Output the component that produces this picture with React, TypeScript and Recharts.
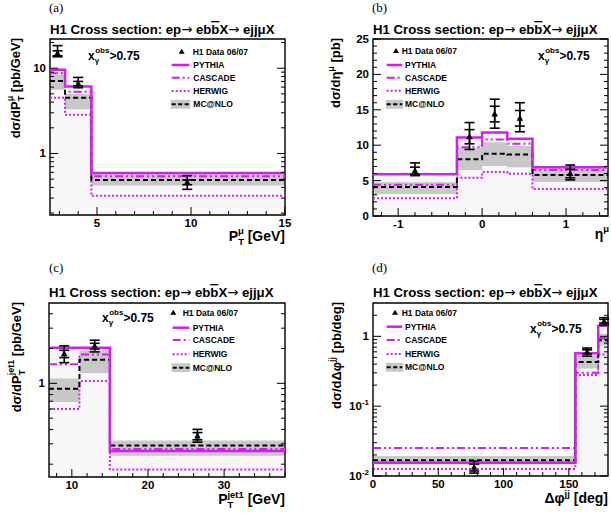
import React from "react";
import {
  ComposedChart,
  Line,
  Area,
  Scatter,
  XAxis,
  YAxis,
  ErrorBar,
  ReferenceArea,
} from "recharts";

const MAG = "#d21ff0";
const BAND = "#c8c8c8";
const UNDER = "#f7f7f7";
const FONT = "'Liberation Sans', Arial, Helvetica, sans-serif";

// (a) dσ/dPTμ
const A_EDGES = [2.5, 3.3, 4.7, 15];
const A_PYTHIA = [9.6, 6.1, 0.59];
const A_CASCADE = [8.7, 5.3, 0.54];
const A_HERWIG = [4.5, 2.85, 0.32];
const A_MCNLO = [7.1, 4.5, 0.49];
const A_MCNLO_LO = [5.6, 3.3, 0.42];
const A_MCNLO_HI = [8.3, 5.0, 0.58];
const A_DATA_X = [2.9, 4.0, 9.8];
const A_DATA_Y = [15, 6.6, 0.46];
const A_DATA_LO = [13.6, 5.9, 0.38];
const A_DATA_HI = [18.4, 7.8, 0.55];
const A_DATA_STAT = [1.0, 0.4, 0.03];

// (b) dσ/dημ
const B_EDGES = [-1.3, -0.3, 0, 0.3, 0.6, 1.5];
const B_PYTHIA = [5.9, 11.1, 11.8, 10.9, 6.9];
const B_CASCADE = [4.4, 9.7, 10.8, 10.2, 6.5];
const B_HERWIG = [2.5, 5.4, 6.2, 5.95, 3.8];
const B_MCNLO = [4.1, 8.0, 8.8, 8.7, 5.8];
const B_MCNLO_LO = [3.1, 6.5, 7.05, 6.9, 4.8];
const B_MCNLO_HI = [4.75, 9.6, 10.4, 9.9, 6.9];
const B_DATA_X = [-0.8, -0.15, 0.15, 0.45, 1.05];
const B_DATA_Y = [6.4, 11.2, 14.4, 13.8, 6.0];
const B_DATA_LO = [5.7, 9.4, 12.4, 11.9, 5.1];
const B_DATA_HI = [7.5, 13.2, 16.5, 16.0, 7.2];
const B_DATA_STAT = [0.5, 1.0, 1.1, 1.1, 0.6];

// (c) dσ/dPTjet1
const C_EDGES = [7, 11, 15, 38];
const C_PYTHIA = [2.03, 2.03, 0.26];
const C_CASCADE = [1.46, 1.78, 0.27];
const C_HERWIG = [0.6, 1.05, 0.18];
const C_MCNLO = [0.9, 1.6, 0.29];
const C_MCNLO_LO = [0.69, 1.23, 0.237];
const C_MCNLO_HI = [1.1, 1.93, 0.32];
const C_DATA_X = [9, 13, 26.5];
const C_DATA_Y = [1.8, 2.1, 0.35];
const C_DATA_LO = [1.51, 1.87, 0.31];
const C_DATA_HI = [2.11, 2.36, 0.4];
const C_DATA_STAT = [0.13, 0.12, 0.025];

// (d) dσ/dΔφjj
const D_EDGES = [0, 155, 172.5, 180];
const D_PYTHIA = [0.0155, 0.57, 1.42];
const D_CASCADE = [0.0251, 0.3, 0.95];
const D_HERWIG = [0.0126, 0.28, 0.55];
const D_MCNLO = [0.0168, 0.43, 0.88];
const D_MCNLO_LO = [0.0147, 0.345, 0.74];
const D_MCNLO_HI = [0.0193, 0.53, 1.09];
const D_DATA_X = [77.5, 164, 177];
const D_DATA_Y = [0.0133, 0.6, 1.65];
const D_DATA_LO = [0.011, 0.52, 1.45];
const D_DATA_HI = [0.0164, 0.68, 1.85];
const D_DATA_STAT = [0.0015, 0.04, 0.1];

// tick labels
const A_X_MAJOR = [5, 10, 15];
const A_Y_MAJOR = [1, 10];
const B_X_MAJOR = [-1, 0, 1];
const B_Y_MAJOR = [0, 5, 10, 15, 20, 25];
const C_X_MAJOR = [10, 20, 30];
const C_Y_MAJOR = [1];
const D_X_MAJOR = [0, 50, 100, 150];
const D_Y_MAJOR = [0.01, 0.1, 1];

function steps(from: number, to: number, step: number, skip: number[]) {
  const out: number[] = [];
  for (let v = from; v <= to + 1e-9; v += step) {
    const r = Math.round(v * 1000) / 1000 + 0;
    if (!skip.some((s) => Math.abs(s - r) < 1e-9)) out.push(r);
  }
  return out;
}

function logMinors(lo: number, hi: number) {
  const out: number[] = [];
  for (let e = -3; e <= 2; e++) {
    for (let m = 2; m <= 9; m++) {
      const v = Number((m * Math.pow(10, e)).toPrecision(3));
      if (v > lo && v < hi) out.push(v);
    }
  }
  return out;
}

function hist(edges: number[], vals: number[]) {
  return edges.map((x, i) => ({ x, y: vals[Math.min(i, vals.length - 1)] }));
}

function band(edges: number[], lo: number[], hi: number[]) {
  return edges.map((x, i) => {
    const k = Math.min(i, lo.length - 1);
    return { x, r: [lo[k], hi[k]] };
  });
}

function points(xs: number[], ys: number[], lo: number[], hi: number[], st: number[]) {
  return xs.map((x, i) => ({
    x,
    y: ys[i],
    tot: [ys[i] - lo[i], hi[i] - ys[i]],
    st: [st[i], st[i]],
  }));
}

const Tri = (p: any) => (
  <polygon
    points={`${p.cx},${p.cy - 3.5} ${p.cx - 3.3},${p.cy + 2.5} ${p.cx + 3.3},${p.cy + 2.5}`}
    fill="#000"
  />
);

const logFmt = (v: number) => {
  if (v === 0.01)
    return (
      <>
        10<tspan dy={-5} fontSize={8}>-2</tspan>
      </>
    );
  if (v === 0.1)
    return (
      <>
        10<tspan dy={-5} fontSize={8}>-1</tspan>
      </>
    );
  return String(v);
};

const isMajor = (majors: number[], v: number) => majors.some((m) => Math.abs(m - v) < 1e-9);

// inward tick marks (ROOT style)
const bottomTick = (majors: number[]) => (p: any) => {
  const maj = isMajor(majors, Number(p.payload.value));
  return <line x1={p.x} x2={p.x} y1={p.y} y2={p.y - (maj ? 8 : 4)} stroke="#000" />;
};

const leftTick = (majors: number[]) => (p: any) => {
  const maj = isMajor(majors, Number(p.payload.value));
  return <line x1={p.x} x2={p.x + (maj ? 8 : 4)} y1={p.y} y2={p.y} stroke="#000" />;
};

const rightTick = (majors: number[]) => (p: any) => {
  const maj = isMajor(majors, Number(p.payload.value));
  return <line x1={p.x} x2={p.x - (maj ? 8 : 4)} y1={p.y} y2={p.y} stroke="#000" />;
};

const blank = () => "";

type Cfg = {
  left: number;
  top: number;
  w: number;
  h: number;
  box: number[];
  xDomain: number[];
  yDomain: number[];
  log: boolean;
  xMajor: number[];
  xMinor: number[];
  yMajor: number[];
  yMinor: number[];
  edges: number[];
  pythia: number[];
  cascade: number[];
  herwig: number[];
  mcnlo: number[];
  lo: number[];
  hi: number[];
  pts: any[];
};

function Panel({ c }: { c: Cfg }) {
  const [l, t, r, b] = c.box;
  const floor = c.yDomain[0];
  const under = c.edges.map((x, i) => ({
    x,
    r: [floor, c.pythia[Math.min(i, c.pythia.length - 1)]],
  }));
  const yTicks = [...c.yMajor, ...c.yMinor].sort((p, q) => p - q);
  const xTicks = [...c.xMajor, ...c.xMinor].sort((p, q) => p - q);
  const axisCommon = {
    type: "number" as const,
    allowDataOverflow: true,
    interval: 0,
    minTickGap: 0,
    tickSize: 0,
    tickMargin: 0,
    axisLine: false,
    tickLine: false,
    tickFormatter: blank,
  };
  return (
    <div style={{ position: "absolute", left: c.left, top: c.top }}>
      <ComposedChart
        width={c.w}
        height={c.h}
        margin={{ top: t, left: l - 40, right: c.w - r - 1, bottom: c.h - b - 30 }}
      >
        <XAxis {...axisCommon} dataKey="x" domain={c.xDomain} ticks={xTicks} tick={bottomTick(c.xMajor)} height={30} />
        <YAxis
          {...axisCommon}
          dataKey="y"
          scale={c.log ? "log" : "linear"}
          domain={c.yDomain}
          ticks={yTicks}
          tick={leftTick(c.yMajor)}
          width={40}
        />
        <YAxis
          {...axisCommon}
          yAxisId="r"
          orientation="right"
          scale={c.log ? "log" : "linear"}
          domain={c.yDomain}
          ticks={yTicks}
          tick={rightTick(c.yMajor)}
          width={1}
        />
        <Area data={under} dataKey="r" type="stepAfter" fill={UNDER} fillOpacity={1} stroke="none" isAnimationActive={false} />
        <Area data={band(c.edges, c.lo, c.hi)} dataKey="r" type="stepAfter" fill={BAND} fillOpacity={1} stroke="none" isAnimationActive={false} />
        <Line data={hist(c.edges, c.herwig)} dataKey="y" type="stepAfter" stroke={MAG} strokeWidth={2} strokeDasharray="2 2" dot={false} isAnimationActive={false} />
        <Line data={hist(c.edges, c.cascade)} dataKey="y" type="stepAfter" stroke={MAG} strokeWidth={2} strokeDasharray="8 3 2 3 2 3" dot={false} isAnimationActive={false} />
        <Line data={hist(c.edges, c.mcnlo)} dataKey="y" type="stepAfter" stroke="#000" strokeWidth={2} strokeDasharray="5 3" dot={false} isAnimationActive={false} />
        <Line data={hist(c.edges, c.pythia)} dataKey="y" type="stepAfter" stroke={MAG} strokeWidth={2.5} dot={false} isAnimationActive={false} />
        <Scatter data={c.pts} dataKey="y" shape={Tri} isAnimationActive={false}>
          <ErrorBar dataKey="tot" direction="y" width={5} stroke="#000" strokeWidth={1.6} />
          <ErrorBar dataKey="st" direction="y" width={5} stroke="#000" strokeWidth={1.6} />
        </Scatter>
        <ReferenceArea
          x1={c.xDomain[0]}
          x2={c.xDomain[1]}
          y1={c.yDomain[0]}
          y2={c.yDomain[1]}
          fill="none"
          stroke="#000"
          strokeWidth={1.4}
          ifOverflow="visible"
        />
      </ComposedChart>
    </div>
  );
}

const PANELS: Cfg[] = [
  {
    left: 0, top: 0, w: 305, h: 260, box: [50, 39, 285, 215],
    xDomain: [2.5, 15], yDomain: [0.19, 22], log: true,
    xMajor: A_X_MAJOR, xMinor: steps(3, 14, 1, A_X_MAJOR),
    yMajor: A_Y_MAJOR, yMinor: logMinors(0.19, 22),
    edges: A_EDGES, pythia: A_PYTHIA, cascade: A_CASCADE, herwig: A_HERWIG,
    mcnlo: A_MCNLO, lo: A_MCNLO_LO, hi: A_MCNLO_HI,
    pts: points(A_DATA_X, A_DATA_Y, A_DATA_LO, A_DATA_HI, A_DATA_STAT),
  },
  {
    left: 305, top: 0, w: 306, h: 260, box: [68, 39, 303, 216],
    xDomain: [-1.3, 1.5], yDomain: [0, 25], log: false,
    xMajor: B_X_MAJOR, xMinor: steps(-1.2, 1.4, 0.2, B_X_MAJOR),
    yMajor: B_Y_MAJOR, yMinor: steps(1, 24, 1, B_Y_MAJOR),
    edges: B_EDGES, pythia: B_PYTHIA, cascade: B_CASCADE, herwig: B_HERWIG,
    mcnlo: B_MCNLO, lo: B_MCNLO_LO, hi: B_MCNLO_HI,
    pts: points(B_DATA_X, B_DATA_Y, B_DATA_LO, B_DATA_HI, B_DATA_STAT),
  },
  {
    left: 0, top: 260, w: 305, h: 260, box: [49, 43, 285, 217],
    xDomain: [7, 38], yDomain: [0.155, 4.95], log: true,
    xMajor: C_X_MAJOR, xMinor: steps(8, 38, 2, C_X_MAJOR),
    yMajor: C_Y_MAJOR, yMinor: logMinors(0.155, 4.95),
    edges: C_EDGES, pythia: C_PYTHIA, cascade: C_CASCADE, herwig: C_HERWIG,
    mcnlo: C_MCNLO, lo: C_MCNLO_LO, hi: C_MCNLO_HI,
    pts: points(C_DATA_X, C_DATA_Y, C_DATA_LO, C_DATA_HI, C_DATA_STAT),
  },
  {
    left: 305, top: 260, w: 306, h: 260, box: [68, 43, 303, 216],
    xDomain: [0, 180], yDomain: [0.01, 3], log: true,
    xMajor: D_X_MAJOR, xMinor: steps(10, 170, 10, D_X_MAJOR),
    yMajor: D_Y_MAJOR, yMinor: logMinors(0.01, 3),
    edges: D_EDGES, pythia: D_PYTHIA, cascade: D_CASCADE, herwig: D_HERWIG,
    mcnlo: D_MCNLO, lo: D_MCNLO_LO, hi: D_MCNLO_HI,
    pts: points(D_DATA_X, D_DATA_Y, D_DATA_LO, D_DATA_HI, D_DATA_STAT),
  },
];

const B = { fontFamily: FONT, fontWeight: "bold" as const, fill: "#000" };

// numeric tick labels, placed with the same mapping the chart's axes use
function TickLabels({ c }: { c: Cfg }) {
  const [l, t, r, b] = c.box;
  const [x0, x1] = c.xDomain;
  const [y0, y1] = c.yDomain;
  const px = (v: number) => c.left + l + ((v - x0) / (x1 - x0)) * (r - l);
  const py = (v: number) => {
    const f = c.log
      ? (Math.log10(v) - Math.log10(y0)) / (Math.log10(y1) - Math.log10(y0))
      : (v - y0) / (y1 - y0);
    return c.top + b - f * (b - t);
  };
  return (
    <g>
      {c.xMajor.map((v) => (
        <text key={`x${v}`} x={px(v)} y={c.top + b + 11.5} textAnchor="middle" {...B} fontSize={11.5}>
          {String(v)}
        </text>
      ))}
      {c.yMajor.map((v) => (
        <text key={`y${v}`} x={c.left + l - 4} y={py(v) + 4} textAnchor="end" {...B} fontSize={11.5}>
          {logFmt(v)}
        </text>
      ))}
    </g>
  );
}

function Legend({ ox, oy, tri, dataX, l0, l1, tx, rows }: any) {
  return (
    <g transform={`translate(${ox},${oy})`}>
      <polygon points={`${tri},${rows[0] - 3} ${tri - 3},${rows[0] + 2} ${tri + 3},${rows[0] + 2}`} fill="#000" />
      <text x={dataX} y={rows[0] + 3} {...B} fontSize={8.5}>H1 Data 06/07</text>
      <line x1={l0} x2={l1} y1={rows[1]} y2={rows[1]} stroke={MAG} strokeWidth={2.5} />
      <text x={tx} y={rows[1] + 3} {...B} fontSize={8.5}>PYTHIA</text>
      <line x1={l0} x2={l1} y1={rows[2]} y2={rows[2]} stroke={MAG} strokeWidth={2} strokeDasharray="8 3 2 3 2 3" />
      <text x={tx} y={rows[2] + 3} {...B} fontSize={8.5}>CASCADE</text>
      <line x1={l0} x2={l1} y1={rows[3]} y2={rows[3]} stroke={MAG} strokeWidth={2} strokeDasharray="2 2" />
      <text x={tx} y={rows[3] + 3} {...B} fontSize={8.5}>HERWIG</text>
      <rect x={l0 - 1} y={rows[4] - 4.5} width={l1 - l0 + 2} height={9} fill={BAND} />
      <line x1={l0} x2={l1} y1={rows[4]} y2={rows[4]} stroke="#000" strokeWidth={2} strokeDasharray="4 2.5" />
      <text x={tx} y={rows[4] + 3} {...B} fontSize={8.5}>MC@NLO</text>
    </g>
  );
}

const ARROW = "'DejaVu Sans', sans-serif";

function Title({ x, y }: { x: number; y: number }) {
  return (
    <text x={x} y={y} {...B} fontSize={13.2}>
      H1 Cross section: ep<tspan fontFamily={ARROW} fontWeight="normal">→</tspan> eb
      <tspan textDecoration="overline">b</tspan>X<tspan fontFamily={ARROW} fontWeight="normal">→</tspan> ejjμX
    </text>
  );
}

function XGamma({ x, y }: { x: number; y: number }) {
  return (
    <text x={x} y={y} {...B} fontSize={12}>
      x<tspan fontSize={8} dy={3}>γ</tspan>
      <tspan fontSize={8} dx={-4} dy={-10}>obs</tspan>
      <tspan dy={7}>&gt;0.75</tspan>
    </text>
  );
}

function PanelLabel({ x, y, s }: { x: number; y: number; s: string }) {
  return (
    <text x={x} y={y} fontFamily="'Liberation Serif', 'Times New Roman', serif" fontSize={13} fill="#000">
      {s}
    </text>
  );
}

function YTitle({ x, y, children }: any) {
  return (
    <text transform={`translate(${x},${y}) rotate(-90)`} textAnchor="end" {...B} fontSize={13}>
      {children}
    </text>
  );
}

function Overlay() {
  return (
    <svg width={611} height={520} style={{ position: "absolute", left: 0, top: 0, pointerEvents: "none" }}>
      {PANELS.map((c, i) => (
        <TickLabels key={i} c={c} />
      ))}

      <PanelLabel x={49} y={12} s="(a)" />
      <PanelLabel x={372} y={12} s="(b)" />
      <PanelLabel x={49} y={272} s="(c)" />
      <PanelLabel x={372} y={272} s="(d)" />

      <Title x={50} y={34} />
      <Title x={373} y={34} />
      <Title x={49} y={297} />
      <Title x={373} y={297} />

      <YTitle x={20} y={38}>
        dσ/dP<tspan fontSize={9} dy={4}>T</tspan>
        <tspan fontSize={9} dx={-5.5} dy={-11}>μ</tspan>
        <tspan dy={7}> [pb/GeV]</tspan>
      </YTitle>
      <YTitle x={340} y={38}>
        dσ/dη<tspan fontSize={9} dy={-6}>μ</tspan>
        <tspan dy={6}> [pb]</tspan>
      </YTitle>
      <YTitle x={21} y={302}>
        dσ/dP<tspan fontSize={9} dy={4}>T</tspan>
        <tspan fontSize={9} dx={-5.5} dy={-11}>jet1</tspan>
        <tspan dy={7}> [pb/GeV]</tspan>
      </YTitle>
      <YTitle x={341} y={302}>
        dσ/dΔφ<tspan fontSize={9} dy={-6}>jj</tspan>
        <tspan dy={6}> [pb/deg]</tspan>
      </YTitle>

      <text x={285} y={241} textAnchor="end" {...B} fontSize={14}>
        P<tspan fontSize={9.5} dy={4}>T</tspan>
        <tspan fontSize={9.5} dx={-6} dy={-11}>μ</tspan>
        <tspan dy={7}> [GeV]</tspan>
      </text>
      <text x={609} y={239} textAnchor="end" {...B} fontSize={14}>
        η<tspan fontSize={9.5} dy={-7}>μ</tspan>
      </text>
      <text x={285} y={504} textAnchor="end" {...B} fontSize={14}>
        P<tspan fontSize={9.5} dy={4}>T</tspan>
        <tspan fontSize={9.5} dx={-6} dy={-10}>jet1</tspan>
        <tspan dy={6}> [GeV]</tspan>
      </text>
      <text x={608} y={503} textAnchor="end" {...B} fontSize={14}>
        Δφ<tspan fontSize={9.5} dy={-6}>jj</tspan>
        <tspan dy={6}> [deg]</tspan>
      </text>

      <XGamma x={88} y={59.5} />
      <XGamma x={538} y={59.5} />
      <XGamma x={102} y={321.7} />
      <XGamma x={530} y={332.7} />

      <Legend ox={0} oy={0} tri={181.7} dataX={192.7} l0={171.7} l1={189.3} tx={193.3} rows={[51.7, 65, 77.7, 91, 104.3]} />
      <Legend ox={305} oy={0} tri={91} dataX={96.7} l0={81.7} l1={97.3} tx={100} rows={[51, 65, 77.7, 90.7, 104.3]} />
      <Legend ox={0} oy={260} tri={173.3} dataX={182.7} l0={172.7} l1={189.3} tx={192.7} rows={[52.7, 67.7, 80, 94.3, 107.7]} />
      <Legend ox={305} oy={260} tri={90} dataX={96.7} l0={81.7} l1={97.3} tx={100} rows={[52.7, 66.7, 80, 94, 107.3]} />
    </svg>
  );
}

export default function App() {
  return (
    <div style={{ position: "absolute", left: 0, top: 0, width: 611, height: 520, background: "#fff" }}>
      {PANELS.map((c, i) => (
        <Panel key={i} c={c} />
      ))}
      <Overlay />
    </div>
  );
}
